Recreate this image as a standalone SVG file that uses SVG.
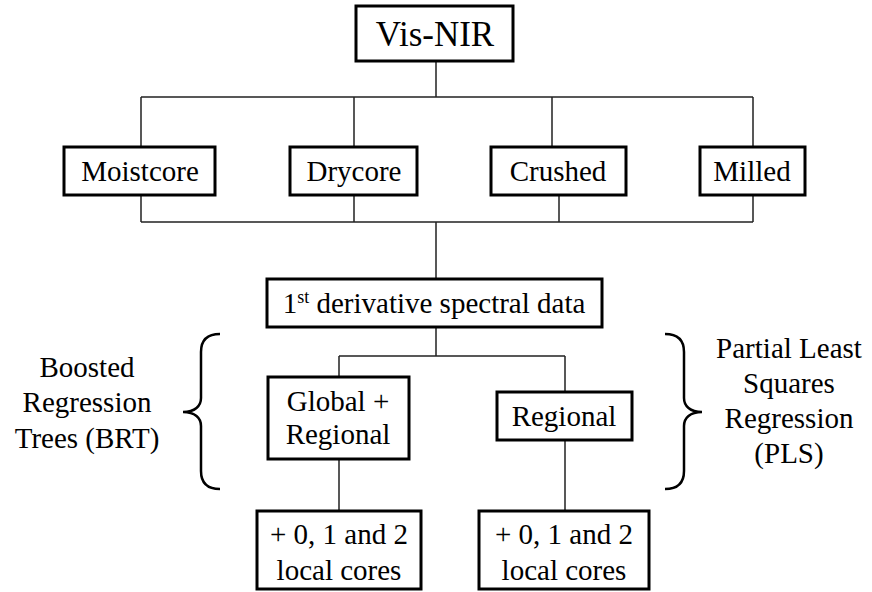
<svg xmlns="http://www.w3.org/2000/svg" width="872" height="592" viewBox="0 0 872 592">
<style>
.box{fill:#fff;stroke:#000;stroke-width:3}
.t{font-family:"Liberation Serif","Times New Roman",serif;font-size:29px;fill:#000;text-anchor:middle}
.ln{fill:none;stroke:#222;stroke-width:1.5}
.br{fill:none;stroke:#000;stroke-width:2.5}
</style>
<rect width="872" height="592" fill="#fff"/>
<g id="connectors">
<path class="ln" d="M436,61 V97 M141,97 H753 M141,97 V147 M354,97 V147 M552,97 V147 M753,97 V147"/>
<path class="ln" d="M141,195 V222 M354,195 V222 M559,195 V222 M753,195 V222 M141,222 H753 M436,222 V279"/>
<path class="ln" d="M436,327 V356 M339,356 H565 M339,356 V377 M565,356 V392"/>
<path class="ln" d="M339,459 V511 M565,440 V511"/>
</g>
<g id="vis-nir"><rect class="box" x="356" y="6" width="157" height="55"/><text class="t" x="435" y="46" style="font-size:35px">Vis-NIR</text></g>
<g id="moistcore"><rect class="box" x="64" y="147" width="151" height="48"/><text class="t" x="140" y="181">Moistcore</text></g>
<g id="drycore"><rect class="box" x="290" y="147" width="127" height="48"/><text class="t" x="354" y="181">Drycore</text></g>
<g id="crushed"><rect class="box" x="491" y="147" width="135" height="48"/><text class="t" x="558" y="181">Crushed</text></g>
<g id="milled"><rect class="box" x="700" y="147" width="105" height="48"/><text class="t" x="752" y="181">Milled</text></g>
<g id="derivative"><rect class="box" x="267" y="279" width="335" height="48"/><text class="t" x="434" y="313">1<tspan style="font-size:18px" dy="-10">st</tspan><tspan dy="10"> derivative spectral data</tspan></text></g>
<g id="global-regional"><rect class="box" x="268" y="377" width="141" height="82"/><text class="t" x="338" y="411">Global +</text><text class="t" x="338" y="444">Regional</text></g>
<g id="regional"><rect class="box" x="497" y="392" width="135" height="48"/><text class="t" x="564" y="426">Regional</text></g>
<g id="local-left"><rect class="box" x="257" y="511" width="164" height="78"/><text class="t" x="339" y="544">+ 0, 1 and 2</text><text class="t" x="339" y="580">local cores</text></g>
<g id="local-right"><rect class="box" x="479" y="511" width="170" height="78"/><text class="t" x="564" y="544">+ 0, 1 and 2</text><text class="t" x="564" y="580">local cores</text></g>
<g id="brt">
<path class="br" d="M220,334 C207,334 201,340 201,352 L201,398 C201,406 195,412 183,412 C195,412 201,418 201,426 L201,471 C201,483 207,489 220,489"/>
<text class="t" x="87" y="377">Boosted</text><text class="t" x="87" y="412">Regression</text><text class="t" x="87" y="448">Trees (BRT)</text>
</g>
<g id="pls">
<path class="br" d="M665,334 C678,334 684,340 684,352 L684,398 C684,406 690,412 702,412 C690,412 684,418 684,426 L684,471 C684,483 678,489 665,489"/>
<text class="t" x="789" y="358">Partial Least</text><text class="t" x="789" y="393">Squares</text><text class="t" x="789" y="428">Regression</text><text class="t" x="789" y="463">(PLS)</text>
</g>
</svg>
